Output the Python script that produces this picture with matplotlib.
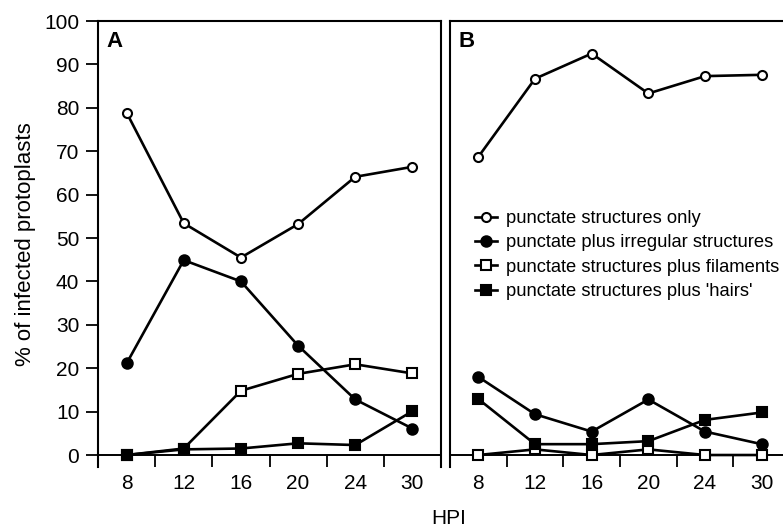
import matplotlib
matplotlib.use("Agg")
from matplotlib import pyplot as plt

plt.rcParams['font.family'] = ['Liberation Sans', 'DejaVu Sans']

hpi = ["8", "12", "16", "20", "24", "30"]

# panel A
a_only = [78.9, 53.4, 45.5, 53.2, 64.1, 66.4]
a_irregular = [21.1, 44.9, 40.0, 25.2, 12.8, 6.1]
a_filaments = [0.0, 1.5, 14.8, 18.7, 20.9, 18.8]
a_hairs = [0.0, 1.3, 1.5, 2.7, 2.3, 10.1]

# panel B
b_only = [68.7, 86.7, 92.5, 83.3, 87.3, 87.6]
b_irregular = [18.0, 9.4, 5.4, 12.8, 5.4, 2.5]
b_filaments = [0.0, 1.3, 0.0, 1.3, 0.0, 0.0]
b_hairs = [12.9, 2.5, 2.5, 3.2, 8.1, 9.8]

labels = ["punctate structures only",
          "punctate plus irregular structures",
          "punctate structures plus filaments",
          "punctate structures plus 'hairs'"]
styles = [("o", "white", 6.5), ("o", "black", 7.5), ("s", "white", 6.5), ("s", "black", 7)]

fig = plt.figure(figsize=(7.83, 5.31), dpi=100)
axA = fig.add_axes([98/783, 64/531, 343/783, 446/531])
axB = fig.add_axes([450/783, 64/531, 340/783, 446/531])

x = list(range(len(hpi)))

def draw_panel(ax, series, letter):
    for vals, (mk, fc, ms), lab in zip(series, styles, labels):
        ax.plot(x, vals, color="black", lw=1.9, marker=mk, markersize=ms,
                markerfacecolor=fc, markeredgecolor="black", markeredgewidth=1.5,
                label=lab, zorder=3)
    ax.axhline(0, color="black", lw=1.4, zorder=2)
    ax.set_xlim(-0.5, 5.5)
    ax.set_ylim(-2.76, 100)
    ax.spines["bottom"].set_visible(False)
    for s in ["left", "top", "right"]:
        ax.spines[s].set_linewidth(1.5)
    ax.set_xticks([0.5, 1.5, 2.5, 3.5, 4.5])
    ax.set_xticklabels([])
    ax.tick_params(axis="x", which="major", direction="in", length=8.5, width=1.3)
    ax.set_xticks(x, minor=True)
    ax.set_xticklabels(hpi, minor=True, fontsize=15)
    ax.tick_params(axis="x", which="minor", length=0, pad=5)
    ax.text(0.026, 0.978, letter, transform=ax.transAxes, fontsize=16,
            fontweight="bold", va="top", ha="left")

draw_panel(axA, [a_only, a_irregular, a_filaments, a_hairs], "A")
draw_panel(axB, [b_only, b_irregular, b_filaments, b_hairs], "B")

axA.set_yticks(range(0, 101, 10))
axA.tick_params(axis="y", direction="out", length=8.5, width=1.3, labelsize=15, pad=5)
axA.set_ylabel("% of infected protoplasts", fontsize=16, labelpad=6)
axB.spines["right"].set_visible(False)
axB.set_yticks([])

axB.legend(loc="upper left", bbox_to_anchor=(0.0735, 0.576), frameon=False,
           fontsize=13.2, handlelength=1.2, handletextpad=0.5,
           labelspacing=0.4, borderpad=0, borderaxespad=0)

fig.text(449/783, 1 - 518/531, "HPI", fontsize=15, ha="center", va="center")

plt.savefig("out.png", dpi=100)
